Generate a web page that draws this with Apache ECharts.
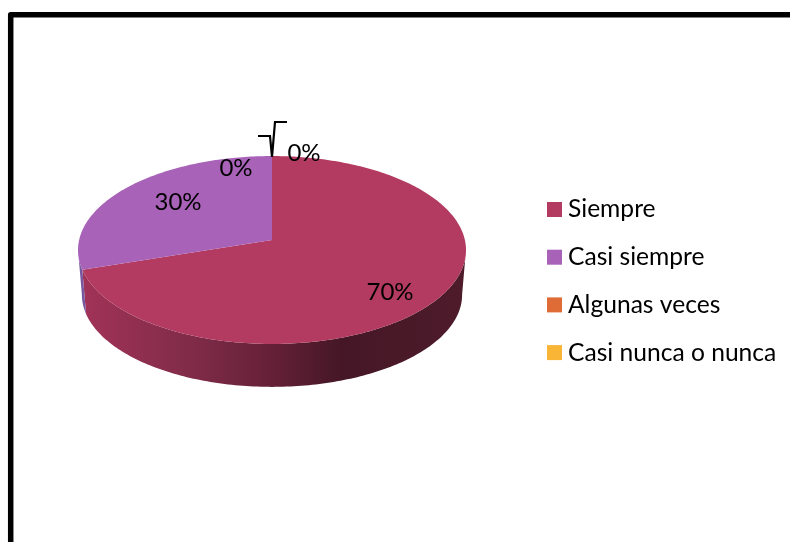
<!DOCTYPE html>
<html>
<head>
<meta charset="utf-8">
<style>html,body{margin:0;padding:0;background:#fff}#c{width:790px;height:542px}</style>
<script src="https://cdn.jsdelivr.net/npm/echarts@6/dist/echarts.min.js"></script>
</head>
<body>
<div id="c"></div>
<script>
const categories = ['Siempre', 'Casi siempre', 'Algunas veces', 'Casi nunca o nunca'];
const values = [70, 30, 0, 0];
const colors = ['#b33b62', '#a862b8', '#df6c36', '#f9b536'];
const labelSpots = [[390, 292], [178, 202], [236, 168], [304, 153]];
const FONT = 'Lato';

const total = values.reduce((a, b) => a + b, 0);
const starts = values.map((_, i) => values.slice(0, i).reduce((a, b) => a + b, 0));

// Perspective view of the pie plane
const CX = 272, CY = 240, A = 92.9, B = 192.9, K = 0.1064, DEPTH = 45, BASE = 0.98;
function project(deg, scale, dy) {
  const t = deg * Math.PI / 180, u = Math.sin(t), v = -Math.cos(t), w = 1 - K * v;
  return [CX + scale * B * u / w, CY + dy + scale * A * v / w];
}
function arc(a0, a1, scale, dy) {
  const pts = [], n = Math.max(1, Math.ceil(Math.abs(a1 - a0)));
  for (let i = 0; i <= n; i++) pts.push(project(a0 + (a1 - a0) * i / n, scale, dy));
  return pts;
}
const sideFill = i => i === 0
  ? new echarts.graphic.LinearGradient(80, 0, 465, 0, [
      { offset: 0, color: '#a23358' },
      { offset: 0.3, color: '#7f2b48' },
      { offset: 0.5, color: '#642036' },
      { offset: 0.68, color: '#451726' },
      { offset: 1, color: '#4e1b2b' }
    ], true)
  : '#75589e';

function renderSlice(params, api) {
  const i = params.seriesIndex;
  const start = api.value(0) / total * 360;
  const end = start + api.value(1) / total * 360;
  const kids = [];
  const s0 = Math.max(start, 96), s1 = Math.min(end, 264);
  if (s1 > s0) {
    kids.push({
      type: 'polygon',
      shape: { points: arc(s0, s1, 1, 0).concat(arc(s1, s0, BASE, DEPTH)) },
      style: { fill: sideFill(i) }
    });
  }
  if (end > start) {
    kids.push({
      type: 'polygon',
      shape: { points: [[CX, CY]].concat(arc(start, end, 1, 0)) },
      style: { fill: colors[i] }
    });
  }
  kids.push({
    type: 'text', x: labelSpots[i][0], y: labelSpots[i][1], z2: 50,
    style: {
      text: Math.round(api.value(1) / total * 100) + '%',
      fill: '#000', font: '24px ' + FONT, align: 'center', verticalAlign: 'middle'
    }
  });
  return { type: 'group', children: kids };
}

const chart = echarts.init(document.getElementById('c'), null, { renderer: 'canvas' });
chart.setOption({
  animation: false,
  backgroundColor: '#fff',
  legend: {
    orient: 'vertical', left: 547, top: 197, padding: 0, icon: 'rect',
    itemWidth: 15, itemHeight: 15, itemGap: 22.7,
    data: categories,
    textStyle: { fontFamily: FONT, fontSize: 24.6, color: '#000', lineHeight: 15, padding: [0, 0, 0, 1] }
  },
  graphic: [
    { type: 'polyline', z: 100, shape: { points: [[10.7, 542], [10.7, 14.7], [790, 14.7]] },
      style: { stroke: '#000', lineWidth: 5.5, lineJoin: 'round', fill: null } },
    { type: 'polyline', z: 100, shape: { points: [[258, 136], [270, 136], [272, 157]] },
      style: { stroke: '#000', lineWidth: 2.2, fill: null } },
    { type: 'polyline', z: 100, shape: { points: [[272, 157], [275, 122], [287, 122]] },
      style: { stroke: '#000', lineWidth: 2.2, fill: null } }
  ],
  series: categories.map((name, i) => ({
    type: 'custom',
    name,
    coordinateSystem: 'none',
    renderItem: renderSlice,
    itemStyle: { color: colors[i] },
    data: [[starts[i], values[i]]],
    silent: true
  }))
});
</script>
</body>
</html>
